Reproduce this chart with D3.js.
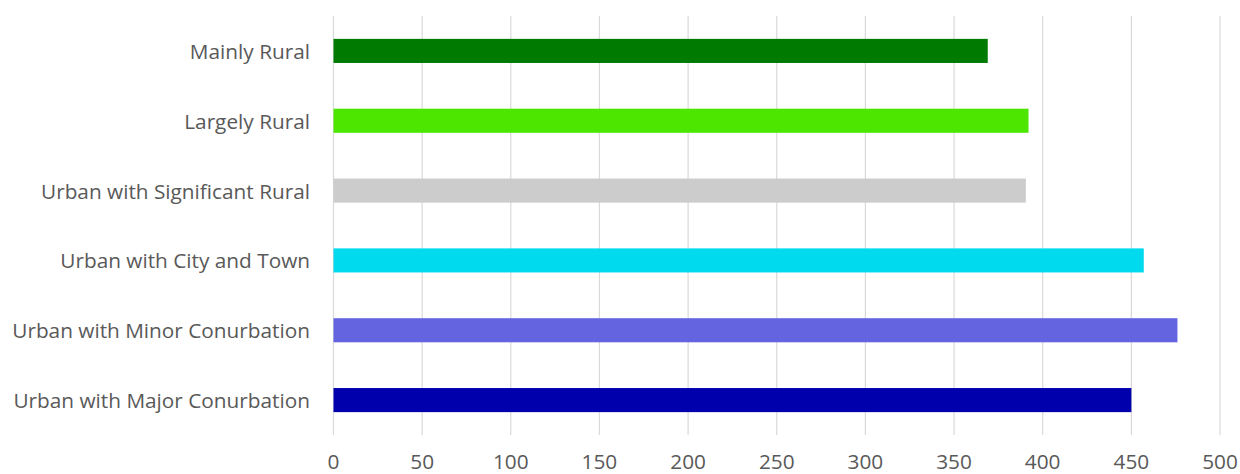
<!DOCTYPE html>
<html><head><meta charset="utf-8">
<script src="https://cdn.jsdelivr.net/npm/d3@7"></script>
<style>
html,body{margin:0;padding:0;background:#fff;}
svg{display:block;}
text{font-family:"Open Sans",sans-serif;fill:#595959;}
</style></head><body>
<svg id="c" width="1240" height="474"></svg>
<script>
const categories = ["Mainly Rural","Largely Rural","Urban with Significant Rural","Urban with City and Town","Urban with Minor Conurbation","Urban with Major Conurbation"];
const values = [369, 392, 390.5, 457, 476, 450];
const colors = ["#007A00","#4DE600","#CCCCCC","#00DAEE","#6464E0","#0000AD"];
const ticks = [0,50,100,150,200,250,300,350,400,450,500];

(function(){
const svg = d3.select("#c");
const pLeft = 333.5, pRight = 1220, pTop = 16, pBottom = 435;
const x = d3.scaleLinear().domain([0,500]).range([pLeft,pRight]);
const y = d3.scaleBand().domain(categories).range([pTop,pBottom]).paddingInner(0.655).paddingOuter(0.3275);

svg.append("g").selectAll("line").data(ticks).join("line")
  .attr("x1",d=>x(d)).attr("x2",d=>x(d)).attr("y1",pTop).attr("y2",pBottom)
  .attr("stroke","#d9d9d9").attr("stroke-width",1.2);

svg.append("g").selectAll("rect").data(categories).join("rect")
  .attr("x",x(0)).attr("y",d=>y(d)).attr("height",y.bandwidth())
  .attr("width",(d,i)=>x(values[i])-x(0))
  .attr("fill",(d,i)=>colors[i]);

const yl = svg.append("g").selectAll("text").data(categories).join("text")
  .attr("x",310).attr("y",d=>y(d)+y.bandwidth()/2)
  .attr("text-anchor","end").attr("dominant-baseline","central")
  .attr("font-size",20).text(d=>d);

const w = d3.max(yl.nodes(), n=>n.getComputedTextLength());
const fs = 20*298/w;
yl.attr("font-size",fs);

svg.append("g").selectAll("text").data(ticks).join("text")
  .attr("x",d=>x(d)).attr("y",468.5).attr("text-anchor","middle")
  .attr("font-size",fs).text(d=>d);
})();
</script>
</body></html>
